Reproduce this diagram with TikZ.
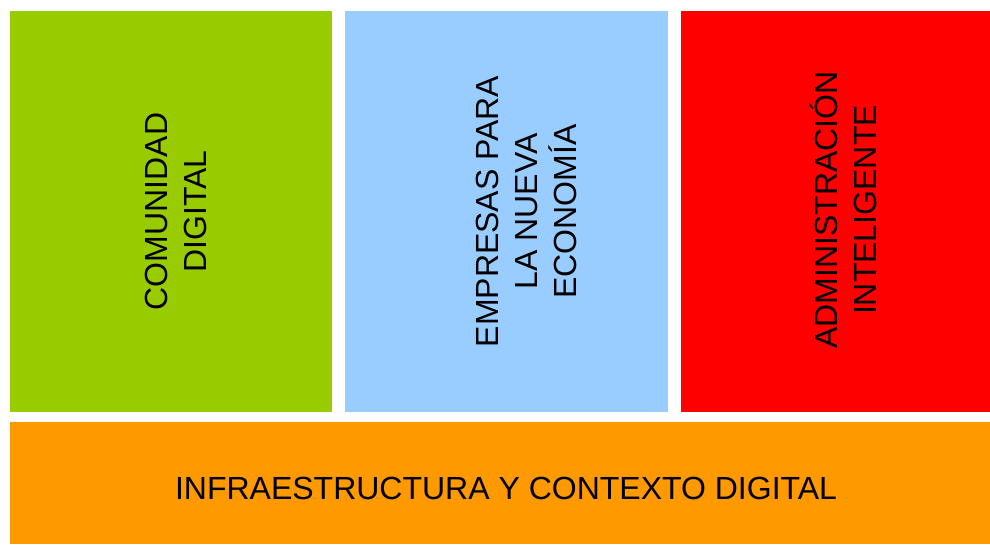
\documentclass[tikz,border=0pt]{standalone}
\usepackage{fontspec}
\setmainfont{Liberation Sans}
\definecolor{verde}{HTML}{99CC00}
\definecolor{celeste}{HTML}{99CCFF}
\definecolor{rojo}{HTML}{FF0000}
\definecolor{naranja}{HTML}{FF9900}
\begin{document}
\begin{tikzpicture}[x=1pt,y=1pt,
    bloque/.style={anchor=south west, inner sep=0pt, outer sep=0pt},
    rotulo/.style={rotate=90, align=center, inner sep=0pt,
      font=\fontsize{32}{39}\selectfont}]
  \useasboundingbox (0,0) rectangle (990,544);
  \node[bloque, fill=verde, minimum width=322pt, minimum height=401pt] (comunidad) at (10,132) {};
  \node[bloque, fill=celeste, minimum width=323pt, minimum height=401pt] (empresas) at (345,132) {};
  \node[bloque, fill=rojo, minimum width=309pt, minimum height=401pt] (administracion) at (681,132) {};
  \node[bloque, fill=naranja, minimum width=980pt, minimum height=122pt] (infraestructura) at (10,0) {};
  \node[rotulo] (tcomunidad) at ([xshift=4.5pt]comunidad.center) {COMUNIDAD\\DIGITAL};
  \node[rotulo] (tempresas) at ([xshift=20pt]empresas.center) {EMPRESAS PARA\\LA NUEVA\\ECONOMÍA};
  \node[rotulo] (tadministracion) at ([xshift=7.5pt,yshift=1.5pt]administracion.center) {ADMINISTRACIÓN\\INTELIGENTE};
  \node[rotulo, rotate=-90] (tinfraestructura) at ([xshift=6pt,yshift=-5pt]infraestructura.center) {INFRAESTRUCTURA Y CONTEXTO DIGITAL};
\end{tikzpicture}
\end{document}
